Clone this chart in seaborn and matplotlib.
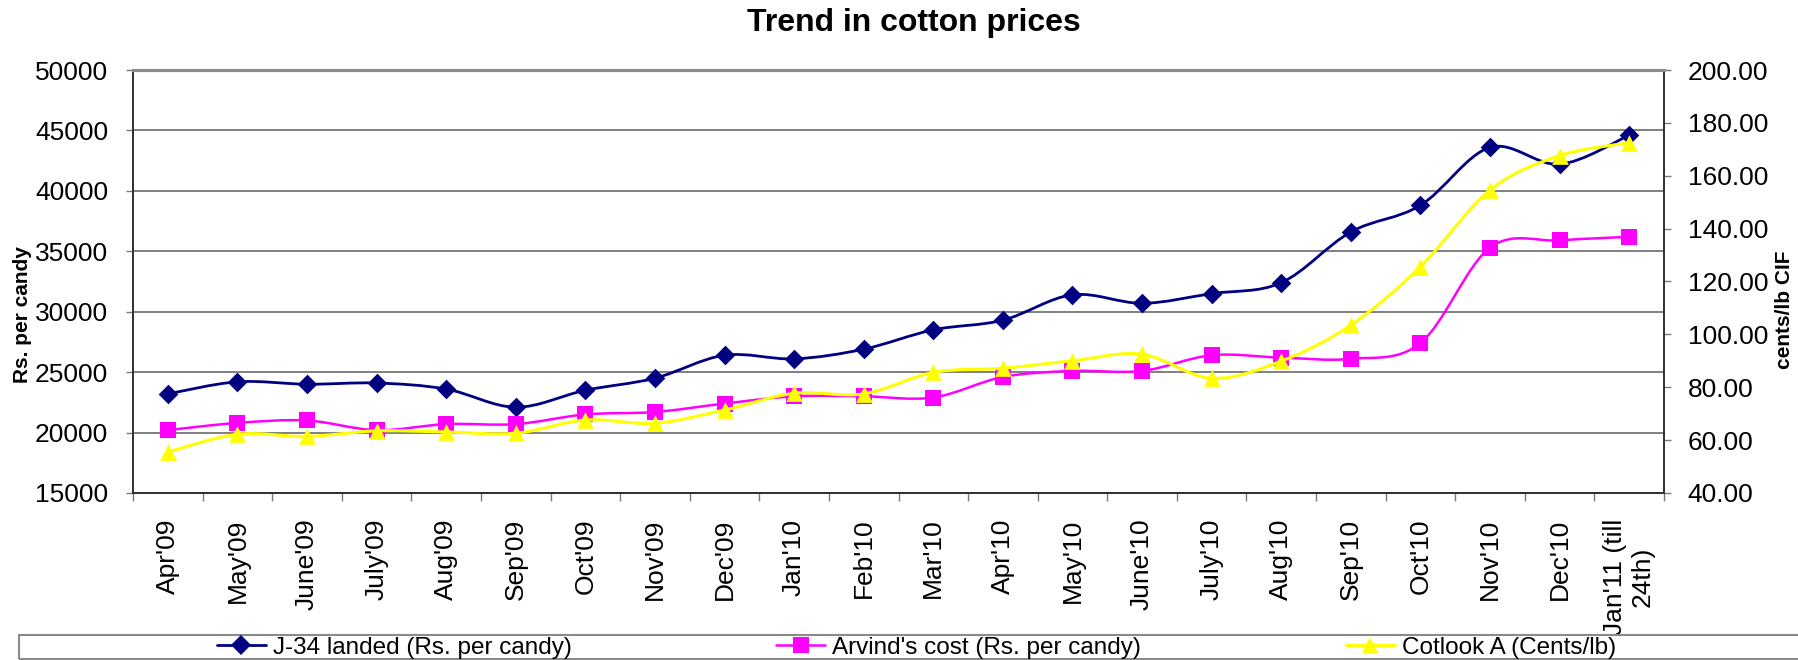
import numpy as np
import matplotlib
matplotlib.use("Agg")
import matplotlib.pyplot as plt
from matplotlib.path import Path
from matplotlib.patches import PathPatch, Rectangle
from matplotlib.lines import Line2D
from matplotlib.ticker import FormatStrFormatter, FixedLocator
import seaborn as sns

months = ["Apr'09", "May'09", "June'09", "July'09", "Aug'09", "Sep'09", "Oct'09",
          "Nov'09", "Dec'09", "Jan'10", "Feb'10", "Mar'10", "Apr'10", "May'10",
          "June'10", "July'10", "Aug'10", "Sep'10", "Oct'10", "Nov'10", "Dec'10",
          "Jan'11 (till\n24th)"]

j34_landed = [23200, 24200, 24000, 24100, 23600, 22100, 23500, 24500, 26400, 26100,
              26900, 28500, 29300, 31400, 30700, 31500, 32400, 36600, 38800, 43600,
              42200, 44600]
arvind_cost = [20200, 20800, 21000, 20200, 20700, 20700, 21500, 21700, 22400, 23000,
               23000, 22900, 24600, 25100, 25100, 26400, 26200, 26100, 27400, 35300,
               35900, 36200]
cotlook_a = [55.5, 62.2, 61.4, 63.5, 63.1, 62.6, 67.6, 66.4, 71.4, 77.7, 77.5, 85.6,
             87.2, 90.0, 92.5, 83.4, 89.9, 103.5, 125.6, 154.6, 167.6, 172.5]

series_labels = ["J-34 landed (Rs. per candy)", "Arvind's cost (Rs. per candy)",
                 "Cotlook A (Cents/lb)"]

sns.set_style("white")
plt.rcParams["font.family"] = ["Liberation Sans", "DejaVu Sans"]
plt.rcParams["text.color"] = "black"
plt.rcParams["axes.labelcolor"] = "black"
plt.rcParams["xtick.labelcolor"] = "black"
plt.rcParams["ytick.labelcolor"] = "black"

W, H = 1798, 660
fig = plt.figure(figsize=(W / 100, H / 100), dpi=100)
ax = fig.add_axes([133 / W, 1 - 493 / H, (1664 - 133) / W, (493 - 70) / H])
ax2 = ax.twinx()

xpos = np.arange(len(months))


def smooth_path(xs, ys):
    """Bezier path through the points, with Catmull-Rom style tangents."""
    pts = np.column_stack([xs, ys]).astype(float)
    n = len(pts)
    verts = [pts[0]]
    codes = [Path.MOVETO]
    for i in range(n - 1):
        p0 = pts[i - 1] if i > 0 else pts[i]
        p1 = pts[i]
        p2 = pts[i + 1]
        p3 = pts[i + 2] if i + 2 < n else pts[i + 1]
        c1 = p1 + (p2 - p0) / 6.0
        c2 = p2 - (p3 - p1) / 6.0
        verts += [c1, c2, p2]
        codes += [Path.CURVE4] * 3
    return Path(verts, codes)


def draw_series(axis, ys, color, marker, msize, lw, z):
    axis.add_patch(PathPatch(smooth_path(xpos, ys), facecolor="none",
                             edgecolor=color, lw=lw, zorder=z,
                             transform=axis.transData))
    sns.scatterplot(x=xpos, y=ys, ax=axis, marker=marker, s=msize ** 2,
                    color=color, edgecolor=color, linewidth=0, zorder=z + 0.1,
                    legend=False)


navy, magenta, yellow = "#000080", "#FF00FF", "#FFFF00"
draw_series(ax, j34_landed, navy, "D", 10, 2.0, 3)
draw_series(ax, arvind_cost, magenta, "s", 11.5, 1.8, 4)
draw_series(ax2, cotlook_a, yellow, "^", 12, 2.2, 5)

# primary axis
ax.set_xlim(-0.5, len(months) - 0.5)
ax.set_ylim(15000, 50000)
ax.set_yticks(np.arange(15000, 50001, 5000))
ax.set_xticks(xpos)
ax.set_xticklabels(months, rotation=90, ha="center", va="top", fontsize=19,
                   multialignment="center")
ax.xaxis.set_minor_locator(FixedLocator(np.arange(-0.5, len(months), 1.0)))
ax.tick_params(axis="x", which="major", length=0, pad=18.5)
ax.tick_params(axis="x", which="minor", length=5.8, width=1, color="#7a7a7a",
               direction="out", bottom=True)
ax.tick_params(axis="y", which="major", length=5, width=1, color="#7a7a7a",
               direction="out", left=True, pad=13, labelsize=19)
ax.grid(axis="y", color="#5e5e5e", lw=1.1)
ax.grid(axis="x", visible=False)
ax.set_axisbelow(True)
ax.set_xlabel("")
ax.set_ylabel("")

# secondary axis
ax2.set_ylim(40, 200)
ax2.set_yticks(np.arange(40, 201, 20))
ax2.yaxis.set_major_formatter(FormatStrFormatter("%.2f"))
ax2.tick_params(axis="y", length=5, width=1, color="#7a7a7a", direction="out",
                right=True, pad=12, labelsize=19)
ax2.grid(False)
ax2.set_ylabel("")

for a in (ax, ax2):
    for side in ("left", "right", "bottom"):
        a.spines[side].set_color("#333333")
        a.spines[side].set_linewidth(1.3)
    a.spines["top"].set_color("#8c8c8c")
    a.spines["top"].set_linewidth(2.2)

# titles and axis captions
fig.text(914 / W, 1 - 23 / H, "Trend in cotton prices", ha="center", va="center",
         fontsize=23, fontweight="bold")
fig.text(23 / W, 1 - 315 / H, "Rs. per candy", rotation=90, ha="center",
         va="center", fontsize=15, fontweight="bold")
fig.text(1784 / W, 1 - 310 / H, "cents/lb CIF", rotation=90, ha="center",
         va="center", fontsize=15, fontweight="bold")

# legend strip along the bottom
handles = [
    Line2D([0], [0], color=navy, lw=2.0, marker="D", markersize=10,
           markeredgewidth=0),
    Line2D([0], [0], color=magenta, lw=1.8, marker="s", markersize=11.5,
           markeredgewidth=0),
    Line2D([0], [0], color=yellow, lw=2.2, marker="^", markersize=12,
           markeredgewidth=0),
]
fig.legend(handles, series_labels, loc="lower left",
           bbox_to_anchor=(217 / W, 1 - 659 / H, (1616 - 217) / W, 24 / H),
           mode="expand", ncol=3, frameon=False, borderaxespad=0, borderpad=0,
           handlelength=2.0, handletextpad=0.3, fontsize=17.5)
fig.patches.append(Rectangle((19 / W, 1 - 659 / H), (W + 20 - 19) / W, 24 / H,
                             transform=fig.transFigure, fill=False,
                             edgecolor="#8a8a8a", lw=1.5, clip_on=False))

fig.savefig("out.png", dpi=100)
